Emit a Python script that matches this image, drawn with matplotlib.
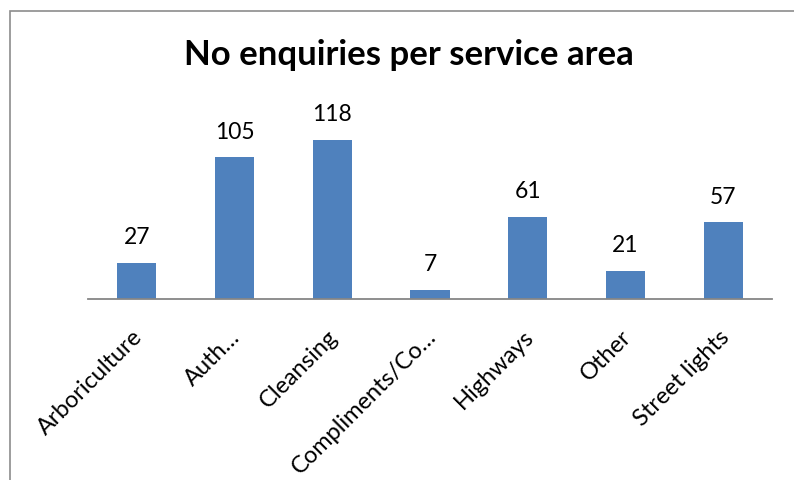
import matplotlib
matplotlib.use("Agg")
import matplotlib.pyplot as plt
from matplotlib.patches import Rectangle
from matplotlib.transforms import ScaledTranslation

# DATA
categories = ["Arboriculture", "Auth…", "Cleansing", "Compliments/Co…",
              "Highways", "Other", "Street lights"]
enquiries = [27, 105, 118, 7, 61, 21, 57]

plt.rcParams["font.family"] = ["Lato", "DejaVu Sans"]

W, H = 794, 481
fig = plt.figure(figsize=(W / 100, H / 100), dpi=100)
ax = fig.add_axes([88 / W, 1 - 300 / H, (772 - 88) / W, (300 - 111) / H])

x = range(len(categories))
bars = ax.bar(x, enquiries, width=0.4, color="#4F81BD")
for b, v in zip(bars, enquiries):
    ax.annotate(str(v), (b.get_x() + b.get_width() / 2, v), xytext=(0, 11),
                textcoords="offset points", ha="center", va="bottom", fontsize=16.5)

ax.set_xlim(-0.5, len(categories) - 0.5)
ax.set_ylim(0, 140)
ax.set_yticks([])
ax.set_xticks(list(x))
ax.set_xticklabels(categories, rotation=45, ha="right", rotation_mode="anchor", fontsize=17)
ax.tick_params(axis="x", length=0, pad=16)
shift = ScaledTranslation(-5 / 100, -4 / 100, fig.dpi_scale_trans)
for lbl in ax.get_xticklabels():
    lbl.set_transform(lbl.get_transform() + shift)
for s in ["top", "right", "left"]:
    ax.spines[s].set_visible(False)
ax.spines["bottom"].set_color("#868686")
ax.spines["bottom"].set_linewidth(1.3)

fig.text(0.5 + 12 / W, 1 - 55 / H, "No enquiries per service area", ha="center", va="center",
         fontsize=25, fontweight="bold")

# chart border (only top and left edges visible in crop)
fig.add_artist(Rectangle((10 / W, -0.1), 1.2, 1.1 - 12 / H, transform=fig.transFigure,
                         fill=False, edgecolor="#8c8c8c", linewidth=1.2))

fig.savefig("out.png", dpi=100)
